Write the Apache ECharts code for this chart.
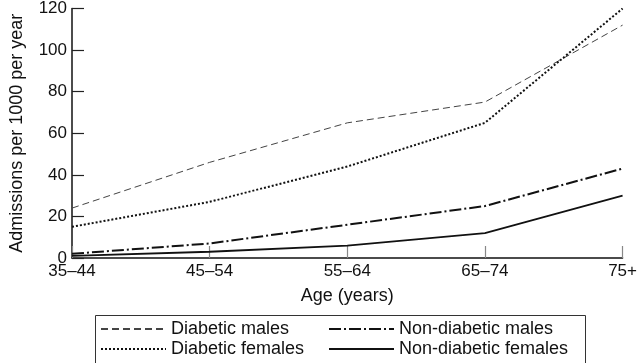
<!DOCTYPE html>
<html>
<head>
<meta charset="utf-8">
<style>
html,body{margin:0;padding:0;background:#fff;}
#chart{width:640px;height:363px;}
</style>
<script src="https://cdn.jsdelivr.net/npm/echarts@6/dist/echarts.min.js"></script>
</head>
<body>
<div id="chart"></div>
<script>
const categories = ['35–44', '45–54', '55–64', '65–74', '75+'];
const diabeticMales = [24, 46, 65, 75, 112];
const diabeticFemales = [15, 27, 44, 65, 120];
const nonDiabeticMales = [2, 7, 16, 25, 43];
const nonDiabeticFemales = [1, 3, 6, 12, 30];
const yTicks = [0, 20, 40, 60, 80, 100, 120];

const FONT = 'Liberation Sans, Arial, Helvetica, sans-serif';
const chart = echarts.init(document.getElementById('chart'), null, {renderer: 'canvas'});

function line(name, data, style) {
  return {
    name: name, type: 'line', data: data, symbol: 'none', showSymbol: false, smooth: false,
    lineStyle: style, itemStyle: {color: style.color}, animation: false
  };
}

const legendCommon = {
  orient: 'vertical', padding: 0, itemGap: 0, itemWidth: 65, itemHeight: 14,
  itemStyle: {opacity: 0},
  textStyle: {fontFamily: FONT, fontSize: 18, color: '#111', lineHeight: 20}
};

chart.setOption({
  animation: false,
  backgroundColor: '#fff',
  grid: {left: 64, right: 13, top: 5, bottom: 105, containLabel: false},
  xAxis: {
    type: 'category', data: categories, boundaryGap: false,
    name: 'Age (years)', nameLocation: 'middle', nameGap: 29,
    nameTextStyle: {fontFamily: FONT, fontSize: 18, color: '#111'},
    axisLine: {lineStyle: {color: '#111', width: 1.5}},
    axisTick: {inside: true, length: 12, alignWithLabel: true, lineStyle: {color: '#888', width: 1.2}},
    axisLabel: {fontFamily: FONT, fontSize: 17, color: '#111', margin: 5},
    splitLine: {show: false}
  },
  yAxis: {
    type: 'value', min: yTicks[0], max: yTicks[yTicks.length - 1], interval: 20,
    name: 'Admissions per 1000 per year', nameLocation: 'middle', nameGap: 46, nameRotate: 90,
    nameTextStyle: {fontFamily: FONT, fontSize: 18, color: '#111'},
    axisLine: {show: true, lineStyle: {color: '#111', width: 1.5}},
    axisTick: {show: true, inside: true, length: 12, lineStyle: {color: '#222', width: 1.2}},
    axisLabel: {fontFamily: FONT, fontSize: 17, color: '#111', margin: 5},
    splitLine: {show: false}
  },
  legend: [
    Object.assign({}, legendCommon, {left: 100, top: 319, data: ['Diabetic males', 'Diabetic females']}),
    Object.assign({}, legendCommon, {left: 328, top: 319, data: ['Non-diabetic males', 'Non-diabetic females']})
  ],
  graphic: [{
    type: 'rect', left: 93, top: 313,
    shape: {width: 490, height: 49},
    style: {fill: 'none', stroke: '#333', lineWidth: 1}
  }],
  series: [
    line('Diabetic males', diabeticMales, {color: '#444', width: 1, type: [7, 4]}),
    line('Diabetic females', diabeticFemales, {color: '#111', width: 2, type: [2, 2]}),
    line('Non-diabetic males', nonDiabeticMales, {color: '#111', width: 2, type: [12, 3, 2, 3]}),
    line('Non-diabetic females', nonDiabeticFemales, {color: '#111', width: 1.8, type: 'solid'})
  ]
});
</script>
</body>
</html>
